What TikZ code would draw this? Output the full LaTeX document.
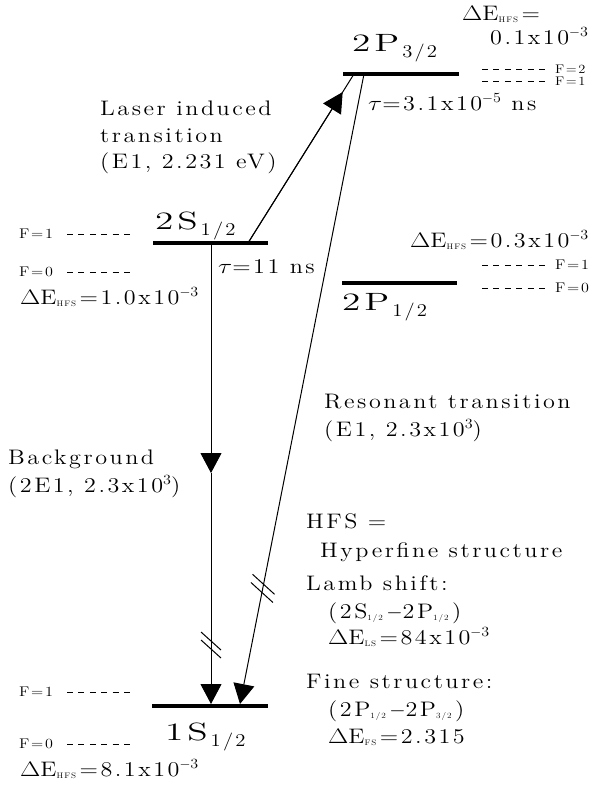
\documentclass[tikz,border=0pt]{standalone}
\usepackage{fix-cm}
\usepackage{graphicx}
\usepackage[no-math]{fontspec}
\setmainfont{lmroman12-regular.otf}[FakeStretch=1.15,LetterSpace=12]
\usetikzlibrary{arrows.meta,calc}
\newcommand\ann{\fontsize{21}{25}\selectfont}
\newcommand\myexp[1]{\raisebox{8pt}{\fontsize{14}{14}\selectfont #1}}
\newcommand\dE{\scalebox{1.25}[1]{$\Delta$}E}
\newcommand\gtau{\scalebox{1.25}[1]{$\tau$}}
\newcommand\tinysub[1]{\raisebox{-2.5pt}{\fontsize{8}{8}\selectfont #1}}
\newcommand\lvl[2]{\fontsize{25}{25}\selectfont\scalebox{1.3}[1]{#1}\raisebox{-6pt}{\fontsize{18}{18}\selectfont\,#2}}
\newcommand\flab{\fontsize{14}{14}\selectfont}
\newcommand\flabsm{\fontsize{12.5}{12.5}\selectfont}
\begin{document}
\begin{tikzpicture}[x=1pt,y=-1pt,
  txt/.style={anchor=base west,inner sep=0pt,font=\ann},
  lvltxt/.style={anchor=base west,inner sep=0pt},
  flbl/.style={anchor=west,inner sep=0pt,font=\flab},
  flblsm/.style={anchor=west,inner sep=0pt,font=\flabsm},
  level/.style={line width=4.5pt},
  hfsdash/.style={line width=1pt,dash pattern=on 6pt off 5.4pt},
  trans/.style={line width=1pt},
  tip/.style={-{Triangle[length=20pt,width=21pt]}}]
\useasboundingbox[fill=white] (0,0) rectangle (597,790);

% energy levels
\coordinate (p3L) at (343,74);  \coordinate (p3R) at (459,74);
\coordinate (s2L) at (153,243); \coordinate (s2R) at (268,243);
\coordinate (p1L) at (342,283); \coordinate (p1R) at (457,283);
\coordinate (s1L) at (152,706); \coordinate (s1R) at (268,706);
\draw[level] (p3L) -- (p3R);
\draw[level] (s2L) -- (s2R);
\draw[level] (p1L) -- (p1R);
\draw[level] (s1L) -- (s1R);

% transitions
\coordinate (lasA) at (248,243); \coordinate (lasB) at (354,74);
\coordinate (bgA) at (211,243);  \coordinate (bgM) at (211,473); \coordinate (bgB) at (211,704);
\coordinate (resA) at (364,74);  \coordinate (resB) at (240,704);
\draw[trans] (lasA) -- (lasB);
\draw[trans,tip] (lasA) -- ($(lasA)!0.893!(lasB)$);
\draw[trans,tip] (bgA) -- (bgM);
\draw[trans,tip] (bgM) -- (bgB);
\draw[trans,tip] (resA) -- (resB);

% break marks
\coordinate (bk1) at (211,641); \coordinate (bk2) at (211,649);
\draw[trans] ([shift={(-10,-9)}]bk1) -- ([shift={(10,9)}]bk1);
\draw[trans] ([shift={(-10,-9)}]bk2) -- ([shift={(10,9)}]bk2);
\path (resA) -- (resB) coordinate[pos=0.81] (rk1) coordinate[pos=0.823] (rk2);
\draw[trans] ([shift={(-11,-10)}]rk1) -- ([shift={(11,10)}]rk1);
\draw[trans] ([shift={(-11,-10)}]rk2) -- ([shift={(11,10)}]rk2);

% hyperfine sublevels
\draw[hfsdash] (482,69) -- (548,69);  \node[flblsm] (rf2) at (555,69) {F=2};
\draw[hfsdash] (482,81) -- (548,81);  \node[flblsm] (rf1) at (555,81) {F=1};
\draw[hfsdash] (67,234) -- (130,234); \node[flbl] (lf1) at (19,234) {F=1};
\draw[hfsdash] (67,272) -- (130,272); \node[flbl] (lf0) at (19,272) {F=0};
\draw[hfsdash] (482,265) -- (548,265); \node[flbl] (rf1b) at (555,265) {F=1};
\draw[hfsdash] (482,288) -- (548,288); \node[flbl] (rf0b) at (555,288) {F=0};
\draw[hfsdash] (67,692) -- (130,692); \node[flbl] (gf1) at (19,692) {F=1};
\draw[hfsdash] (67,744) -- (130,744); \node[flbl] (gf0) at (19,744) {F=0};

% level labels
\node[lvltxt] (lp3) at (352,51)  {\lvl{2P}{3/2}};
\node[lvltxt] (ls2) at (155,229) {\lvl{2S}{1/2}};
\node[lvltxt] (lp1) at (342,310) {\lvl{2P}{1/2}};
\node[lvltxt] (ls1) at (165,740) {\lvl{1S}{1/2}};

% annotations
\node[txt] (hfa) at (462,20) {\dE\tinysub{HFS}\,=};
\node[txt] (hfav) at (490,44) {0.1x10\myexp{$-$3}};
\node[txt] (tau1) at (368,110) {\gtau=3.1x10\myexp{$-$5} ns};
\node[txt] (las1) at (100,115) {Laser induced};
\node[txt] (las2) at (100,142) {transition};
\node[txt] (las3) at (100,168) {(E1, 2.231 eV)};
\node[txt] (tau2) at (218,273) {\gtau=11 ns};
\node[txt] (hfb) at (20,304) {\dE\tinysub{HFS}\,=1.0x10\myexp{$-$3}};
\node[txt] (hfc) at (410,247) {\dE\tinysub{HFS}\,=0.3x10\myexp{$-$3}};
\node[txt] (res1) at (324,408) {Resonant transition};
\node[txt] (res2) at (324,436) {(E1, 2.3x10\myexp{3})};
\node[txt] (bg1) at (8,464) {Background};
\node[txt] (bg2) at (8,492) {(2E1, 2.3x10\myexp{3})};
\node[txt] (hfs1) at (306,528) {HFS =};
\node[txt] (hfs2) at (320,557) {Hyperfine structure};
\node[txt] (lamb1) at (306,590) {Lamb shift:};
\node[txt] (lamb2) at (328,618) {(2S\tinysub{1/2}\,$-$2P\tinysub{1/2}\,)};
\node[txt] (lamb3) at (328,644) {\dE\tinysub{LS}\,=84x10\myexp{$-$3}};
\node[txt] (fs1) at (306,688) {Fine structure:};
\node[txt] (fs2) at (328,716) {(2P\tinysub{1/2}\,$-$2P\tinysub{3/2}\,)};
\node[txt] (fs3) at (328,743) {\dE\tinysub{FS}\,=2.315};
\node[txt] (hfd) at (20,776) {\dE\tinysub{HFS}\,=8.1x10\myexp{$-$3}};
\end{tikzpicture}
\end{document}
